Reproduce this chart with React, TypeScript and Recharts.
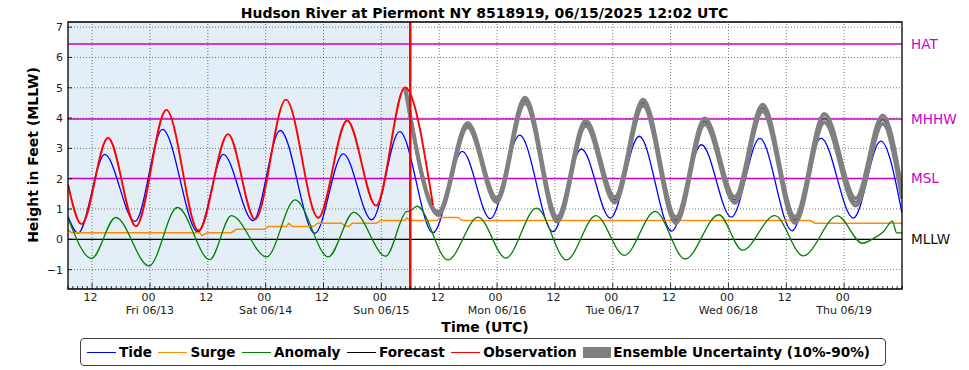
import {
  Area,
  CartesianGrid,
  ComposedChart,
  Line,
  ReferenceArea,
  ReferenceLine,
  XAxis,
  YAxis,
} from "recharts";

const FONT = "'DejaVu Sans', sans-serif";

// time axis: hours since 06/12 00:00 UTC
const X_MAJOR = [12, 24, 36, 48, 60, 72, 84, 96, 108, 120, 132, 144, 156, 168];
const X_HOUR_LABELS = ["12", "00", "12", "00", "12", "00", "12", "00", "12", "00", "12", "00", "12", "00"];
const X_DAY_LABELS = ["", "Fri 06/13", "", "Sat 06/14", "", "Sun 06/15", "", "Mon 06/16", "", "Tue 06/17", "", "Wed 06/18", "", "Thu 06/19"];
const X_MINOR = Array.from({ length: 174 }, (_, k) => 7 + k);
const Y_TICKS = [-1, 0, 1, 2, 3, 4, 5, 6, 7];
const NOW_T = 78;

const DATUMS = ["HAT", "MHHW", "MSL"];
const DATUM_V = [6.44, 3.97, 2.01];

const TIDE_T = [7, 9.1, 14.6, 20.9, 26.6, 34.0, 39.2, 45.4, 51.0, 58.2, 64.1, 70.0, 75.8, 82.7, 88.8, 94.6, 100.7, 107.6, 113.5, 119.5, 125.5, 132.2, 138.4, 144.6, 150.5, 157.2, 163.2, 169.9, 175.6, 180];
const TIDE_V = [0.75, 0.2, 2.8, 0.59, 3.63, 0.24, 2.8, 0.62, 3.59, 0.2, 2.82, 0.64, 3.55, 0.22, 2.9, 0.68, 3.44, 0.25, 2.98, 0.7, 3.4, 0.27, 3.12, 0.73, 3.33, 0.28, 3.34, 0.7, 3.24, 0.87];

const SURGE_T = [7, 7.7, 34.3, 34.8, 35.9, 40.9, 41.9, 47.8, 48.5, 52.3, 52.8, 53.6, 57.9, 58.8, 63.8, 64.5, 65.3, 66.0, 71.0, 71.8, 76.8, 77.3, 77.9, 83.5, 84.3, 87.9, 88.8, 161.0, 161.9, 180];
const SURGE_V = [0.31, 0.22, 0.22, 0.12, 0.22, 0.22, 0.33, 0.33, 0.42, 0.42, 0.53, 0.42, 0.42, 0.53, 0.53, 0.43, 0.43, 0.53, 0.53, 0.62, 0.62, 0.7, 0.62, 0.62, 0.72, 0.72, 0.62, 0.62, 0.53, 0.53];

const ANOM_T = [7, 11.9, 16.9, 23.8, 29.7, 36.4, 40.9, 48.2, 54.1, 61.0, 66.3, 72.9, 77.2, 77.9, 79.4, 85.8, 92.1, 97.8, 104.2, 110.4, 116.5, 122.4, 128.8, 135.0, 142.0, 146.9, 153.6, 159.5, 166.6, 171.8, 174.2, 176.2, 178.0, 178.9, 180];
const ANOM_V = [0.7, -0.63, 0.72, -0.88, 1.05, -0.67, 0.78, -0.58, 1.3, -0.58, 0.89, -0.56, 0.91, 0.93, 1.09, -0.68, 0.73, -0.62, 1.03, -0.68, 0.78, -0.53, 0.92, -0.65, 0.81, -0.36, 0.78, -0.55, 0.77, -0.13, 0.04, 0.26, 0.6, 0.21, 0.21];

const OBS_T = [7, 9.8, 15.3, 21.1, 27.4, 34.1, 40.2, 45.8, 52.2, 58.9, 64.9, 70.9, 76.9, 82.7];
const OBS_V = [1.81, 0.5, 3.35, 0.43, 4.27, 0.29, 3.47, 0.66, 4.61, 0.71, 3.92, 1.11, 5.01, 1.13];

const FC_T = [77, 83.8, 89.9, 95.9, 101.8, 108.5, 114.4, 120.4, 126.3, 133.1, 139.1, 145.3, 151.1, 157.8, 163.9, 170.4, 176.0, 180];
const FC_V = [4.96, 0.85, 3.77, 1.3, 4.58, 0.66, 3.83, 1.3, 4.51, 0.63, 3.89, 1.3, 4.33, 0.64, 4.0, 1.23, 3.95, 1.47];
const ENS_LO = [4.96, 0.8, 3.7, 1.23, 4.49, 0.58, 3.74, 1.21, 4.41, 0.53, 3.79, 1.2, 4.22, 0.54, 3.86, 1.11, 3.81, 1.33];
const ENS_HI = [4.96, 0.9, 3.84, 1.37, 4.67, 0.74, 3.92, 1.39, 4.61, 0.73, 3.99, 1.4, 4.44, 0.74, 4.14, 1.35, 4.09, 1.61];

type Row = {
  t: number;
  tide?: number;
  surge?: number;
  anomaly?: number;
  obs?: number;
  fc?: number;
  ens: [number | null, number | null];
};

function buildRows(): Row[] {
  const rows = new Map<number, Row>();
  const row = (t: number) => {
    let r = rows.get(t);
    if (!r) {
      r = { t, ens: [null, null] };
      rows.set(t, r);
    }
    return r;
  };
  TIDE_T.forEach((t, i) => (row(t).tide = TIDE_V[i]));
  SURGE_T.forEach((t, i) => (row(t).surge = SURGE_V[i]));
  ANOM_T.forEach((t, i) => (row(t).anomaly = ANOM_V[i]));
  OBS_T.forEach((t, i) => (row(t).obs = OBS_V[i]));
  FC_T.forEach((t, i) => {
    row(t).fc = FC_V[i];
    row(t).ens = [ENS_LO[i], ENS_HI[i]];
  });
  return [...rows.values()].sort((a, b) => a.t - b.t);
}

const data = buildRows();

function XTick({ x, y, payload }: any) {
  const i = X_MAJOR.indexOf(payload.value);
  const major = i >= 0;
  return (
    <g>
      <line x1={x} x2={x} y1={y} y2={y - (major ? 6 : 3)} stroke="#000" strokeWidth={0.8} />
      {major && (
        <text x={x - 1.5} y={y + 12} textAnchor="middle" fontSize={11} fontFamily={FONT} fill="#222">
          {X_HOUR_LABELS[i]}
        </text>
      )}
      {major && X_DAY_LABELS[i] && (
        <text x={x} y={y + 24.5} textAnchor="middle" fontSize={11} fontFamily={FONT} fill="#222">
          {X_DAY_LABELS[i]}
        </text>
      )}
    </g>
  );
}

function YTick({ x, y, payload }: any) {
  const v = payload.value as number;
  const label = v < 0 ? `\u2212${Math.abs(v)}` : String(v);
  return (
    <g>
      <line x1={x + 5} x2={x + 9} y1={y} y2={y} stroke="#000" strokeWidth={0.8} />
      <text x={x} y={y} dy="0.36em" textAnchor="end" fontSize={11} fontFamily={FONT} fill="#222">
        {label}
      </text>
    </g>
  );
}

const LEGEND = [
  { name: "Tide", color: "#0000ff", box: false },
  { name: "Surge", color: "#ff8c00", box: false },
  { name: "Anomaly", color: "#008000", box: false },
  { name: "Forecast", color: "#000000", box: false },
  { name: "Observation", color: "#ff0000", box: false },
  { name: "Ensemble Uncertainty (10%-90%)", color: "#808080", box: true },
];

const MAGENTA = "#c800c8";
const GRID = { stroke: "#555", strokeDasharray: "1 2", strokeWidth: 0.8 };

export default function App() {
  return (
    <div style={{ position: "absolute", left: 0, top: 0, width: 969, height: 370, background: "#fff", fontFamily: FONT }}>
      <ComposedChart width={969} height={370} data={data} margin={{ top: 22, right: 67, bottom: 51, left: 0 }}>
        <ReferenceArea x1={7} x2={NOW_T} fill="#e3eef6" fillOpacity={1} stroke="none" zIndex={-200} />
        <CartesianGrid vertical={false} {...GRID} />
        {X_MAJOR.map((t) => (
          <ReferenceLine key={t} x={t} {...GRID} zIndex={-90} />
        ))}
        <XAxis
          dataKey="t"
          type="number"
          domain={[7, 180]}
          allowDataOverflow
          ticks={X_MINOR}
          interval={0}
          tick={<XTick />}
          tickLine={false}
          axisLine={false}
          tickSize={0}
          tickMargin={0}
          height={30}
        />
        <YAxis
          type="number"
          domain={[-1.64, 7.17]}
          allowDataOverflow
          ticks={Y_TICKS}
          interval={0}
          tick={<YTick />}
          tickLine={false}
          axisLine={false}
          tickSize={0}
          tickMargin={5}
          width={68}
        />
        {DATUMS.map((name, i) => (
          <ReferenceLine
            key={name}
            y={DATUM_V[i]}
            stroke={MAGENTA}
            strokeWidth={1.5}
            zIndex={-80}
            label={{ value: name, position: "right", offset: 9, fill: MAGENTA, fontSize: 13.6, fontFamily: FONT }}
          />
        ))}
        <ReferenceLine
          y={0}
          stroke="#000"
          strokeWidth={1.2}
          zIndex={-80}
          label={{ value: "MLLW", position: "right", offset: 9, fill: "#111", fontSize: 13.6, fontFamily: FONT }}
        />
        <Line dataKey="tide" type="monotone" stroke="#0000ff" strokeWidth={1.3} dot={false} connectNulls isAnimationActive={false} />
        <Line dataKey="surge" type="linear" stroke="#ff8c00" strokeWidth={1.5} dot={false} connectNulls isAnimationActive={false} />
        <Line dataKey="anomaly" type="monotone" stroke="#008000" strokeWidth={1.3} dot={false} connectNulls isAnimationActive={false} />
        <Line dataKey="fc" type="monotone" stroke="#000" strokeWidth={1.2} dot={false} connectNulls isAnimationActive={false} zIndex={420} />
        <Area
          dataKey="ens"
          type="monotone"
          stroke="#808080"
          strokeWidth={3.8}
          fill="#808080"
          fillOpacity={0.5}
          connectNulls
          isAnimationActive={false}
          zIndex={450}
        />
        <Line dataKey="obs" type="monotone" stroke="#ff0000" strokeWidth={1.9} dot={false} connectNulls isAnimationActive={false} zIndex={460} />
        <ReferenceLine x={NOW_T} stroke="#ff0000" strokeWidth={2.5} zIndex={900} />
        <ReferenceArea x1={7} x2={180} y1={-1.64} y2={7.17} fill="none" stroke="#000" strokeWidth={1.3} zIndex={1000} />
      </ComposedChart>

      <div style={{ position: "absolute", left: 0, top: 5, width: 969, textAlign: "center", fontSize: 14, lineHeight: "16px", fontWeight: "bold", color: "#000" }}>
        Hudson River at Piermont NY 8518919, 06/15/2025 12:02 UTC
      </div>
      <div
        style={{
          position: "absolute",
          left: 32.5 - 150,
          top: 155 - 8,
          width: 300,
          height: 16,
          lineHeight: "16px",
          textAlign: "center",
          fontSize: 14,
          fontWeight: "bold",
          transform: "rotate(-90deg)",
        }}
      >
        Height in Feet (MLLW)
      </div>
      <div style={{ position: "absolute", left: 285, top: 319, width: 400, textAlign: "center", fontSize: 14, lineHeight: "16px", fontWeight: "bold" }}>
        Time (UTC)
      </div>
      <div
        style={{
          position: "absolute",
          left: 80,
          top: 338,
          width: 806,
          height: 28,
          boxSizing: "border-box",
          border: "1px solid #444",
          borderRadius: 4,
          display: "flex",
          alignItems: "center",
          paddingLeft: 6,
          fontSize: 13.6,
          fontWeight: "bold",
          whiteSpace: "nowrap",
        }}
      >
        {LEGEND.map((it) => (
          <div key={it.name} style={{ display: "flex", alignItems: "center", marginRight: 6.5 }}>
            {it.box ? (
              <span style={{ display: "inline-block", width: 28, height: 11, background: it.color, marginRight: 2 }} />
            ) : (
              <span style={{ display: "inline-block", width: 29, height: 0, borderTop: `1.5px solid ${it.color}`, marginRight: 3 }} />
            )}
            <span>{it.name}</span>
          </div>
        ))}
      </div>
    </div>
  );
}
